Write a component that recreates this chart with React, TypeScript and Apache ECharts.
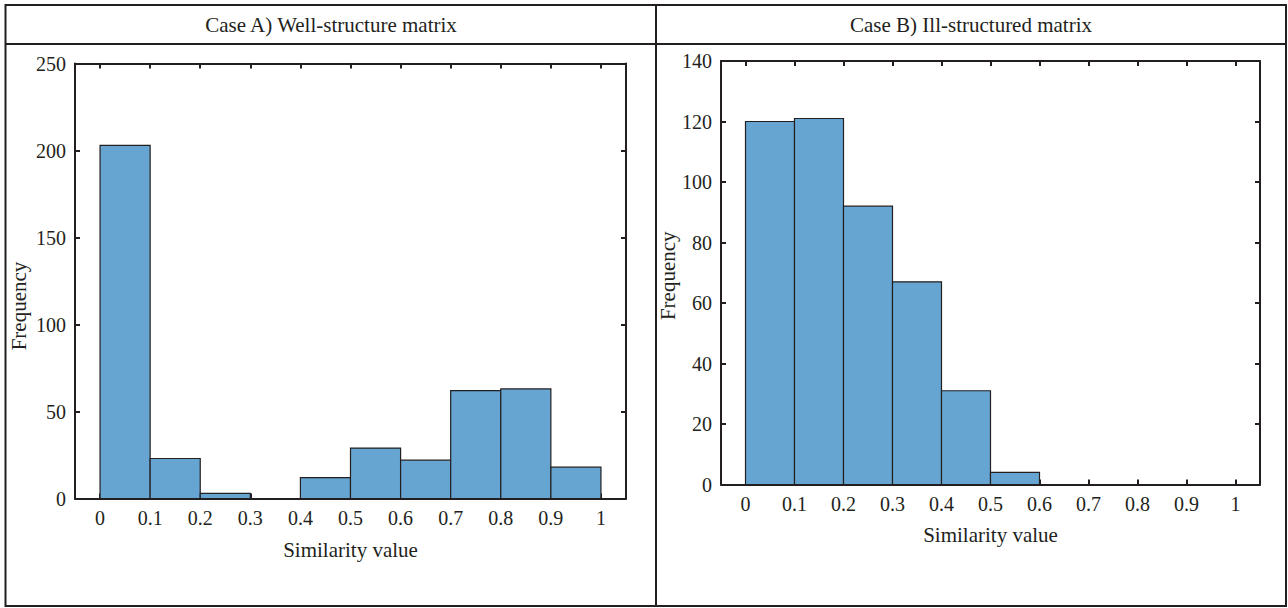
import React, { useEffect, useRef } from "react";
import * as echarts from "echarts";

const binEdges = [0, 0.1, 0.2, 0.3, 0.4, 0.5, 0.6, 0.7, 0.8, 0.9, 1];
const countsA = [203, 23, 3, 0, 12, 29, 22, 62, 63, 18];
const countsB = [120, 121, 92, 67, 31, 4, 0, 0, 0, 0];
const xTicks = [0, 0.1, 0.2, 0.3, 0.4, 0.5, 0.6, 0.7, 0.8, 0.9, 1];
const titleA = "Case A) Well-structure matrix";
const titleB = "Case B) Ill-structured matrix";
const xName = "Similarity value";
const yName = "Frequency";

const FONT = "Liberation Serif";
const INK = "#231f20";
const BAR = "#66a5d1";
const FS = 20;
const FS_NAME = 21;

const fmt = (v: number) => String(Math.round(v * 10) / 10);

function binsOf(counts: number[]) {
  return counts.map((c, i) => [binEdges[i], binEdges[i + 1], c]);
}

const renderBin = (params: any, api: any) => {
  const x0 = api.value(0);
  const x1 = api.value(1);
  const y = api.value(2);
  if (!y) return null;
  const p0 = api.coord([x0, y]);
  const p1 = api.coord([x1, 0]);
  return {
    type: "rect",
    shape: { x: p0[0], y: p0[1], width: p1[0] - p0[0], height: p1[1] - p0[1] },
    style: { fill: BAR, stroke: INK, lineWidth: 1.2 },
  };
};

function xAxes(gridIndex: number, nameGap: number) {
  const common = {
    type: "value",
    gridIndex,
    min: -0.05,
    max: 1.05,
    splitLine: { show: false },
    axisLine: { show: true, onZero: false, lineStyle: { color: INK, width: 2 } },
    axisTick: { show: true, inside: true, length: 5, customValues: xTicks, lineStyle: { color: INK, width: 2 } },
  };
  return [
    {
      ...common,
      position: "bottom",
      name: xName,
      nameLocation: "middle",
      nameGap,
      nameTextStyle: { fontFamily: FONT, fontSize: FS_NAME, color: INK },
      axisLabel: { show: true, customValues: xTicks, formatter: fmt, margin: 9, fontFamily: FONT, fontSize: FS, color: INK },
    },
    {
      ...common,
      position: "top",
      axisLabel: { show: false },
    },
  ];
}

function yAxes(gridIndex: number, max: number, interval: number, nameGap: number, shift: number) {
  const common = {
    type: "value",
    gridIndex,
    min: 0,
    max,
    interval,
    splitLine: { show: false },
    axisLine: { show: true, onZero: false, lineStyle: { color: INK, width: 2 } },
    axisTick: { show: true, inside: true, length: 5, lineStyle: { color: INK, width: 2 } },
  };
  return [
    {
      ...common,
      position: "left",
      name: yName,
      nameLocation: "middle",
      nameRotate: 90,
      nameGap,
      nameTextStyle: { fontFamily: FONT, fontSize: FS_NAME, color: INK, padding: [0, shift, 0, 0] },
      axisLabel: { show: true, margin: 9, fontFamily: FONT, fontSize: FS, color: INK },
    },
    {
      ...common,
      position: "right",
      axisLabel: { show: false },
    },
  ];
}

export default function App() {
  const ref = useRef<HTMLDivElement>(null);
  useEffect(() => {
    if (!ref.current) return;
    const chart = echarts.init(ref.current, null, { renderer: "svg" });
    chart.setOption({
      animation: false,
      backgroundColor: "#ffffff",
      grid: [
        { left: 75, top: 63.5, width: 551, height: 435 },
        { left: 721, top: 61, width: 539, height: 423.5 },
      ],
      xAxis: [...xAxes(0, 41), ...xAxes(1, 40)],
      yAxis: [...yAxes(0, 250, 50, 46, 50), ...yAxes(1, 140, 20, 42, 6)],
      series: [
        {
          type: "custom",
          xAxisIndex: 0,
          yAxisIndex: 0,
          renderItem: renderBin,
          encode: { x: [0, 1], y: 2 },
          data: binsOf(countsA),
        },
        {
          type: "custom",
          xAxisIndex: 2,
          yAxisIndex: 2,
          renderItem: renderBin,
          encode: { x: [0, 1], y: 2 },
          data: binsOf(countsB),
        },
      ],
      graphic: [
        {
          type: "rect",
          shape: { x: 5.5, y: 5, width: 1280.5, height: 601 },
          style: { fill: "none", stroke: INK, lineWidth: 2 },
          silent: true,
        },
        {
          type: "line",
          shape: { x1: 5.5, y1: 44, x2: 1286, y2: 44 },
          style: { stroke: INK, lineWidth: 2 },
          silent: true,
        },
        {
          type: "line",
          shape: { x1: 656, y1: 5, x2: 656, y2: 606 },
          style: { stroke: INK, lineWidth: 2 },
          silent: true,
        },
        {
          type: "text",
          x: 331,
          y: 24.5,
          style: { text: titleA, fontFamily: FONT, fontSize: FS_NAME, fill: INK, align: "center", verticalAlign: "middle" },
          silent: true,
        },
        {
          type: "text",
          x: 971,
          y: 24.5,
          style: { text: titleB, fontFamily: FONT, fontSize: FS_NAME, fill: INK, align: "center", verticalAlign: "middle" },
          silent: true,
        },
      ],
    });
    return () => chart.dispose();
  }, []);
  return (
    <div
      ref={ref}
      style={{ position: "fixed", left: 0, top: 0, width: 1288, height: 608 }}
    />
  );
}
